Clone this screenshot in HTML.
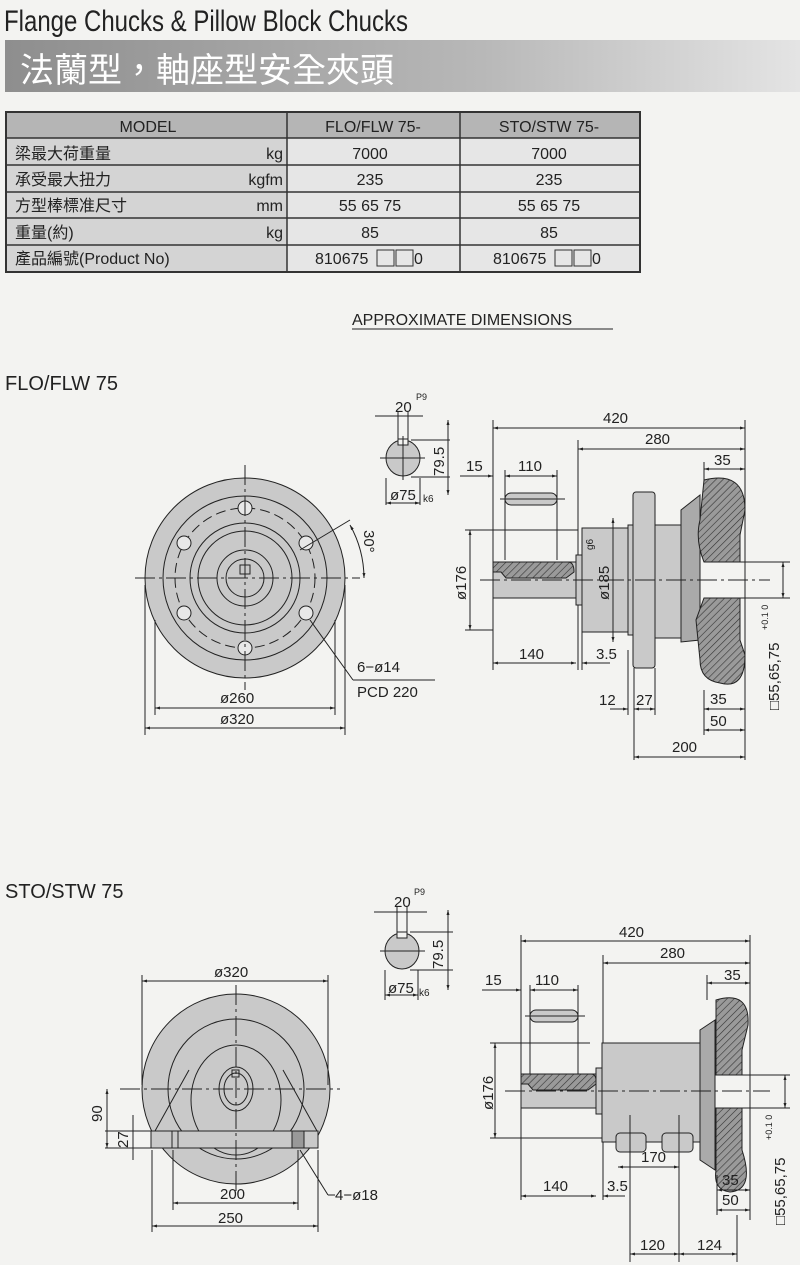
<!DOCTYPE html>
<html><head><meta charset="utf-8"><style>
body{margin:0;background:#f3f3f1;}
svg{display:block}
text{font-family:"Liberation Sans","Noto Sans CJK TC",sans-serif;fill:#222}
.d{font-size:15px}
</style></head><body>
<svg width="800" height="1265" viewBox="0 0 800 1265" xmlns="http://www.w3.org/2000/svg">
<defs>
<linearGradient id="bar" x1="0" x2="1"><stop offset="0" stop-color="#8e8e8e"/><stop offset="0.6" stop-color="#b8b8b8"/><stop offset="1" stop-color="#e4e4e4"/></linearGradient>
<pattern id="h" width="5" height="5" patternUnits="userSpaceOnUse" patternTransform="rotate(45)"><rect width="5" height="5" fill="#9a9a9a"/><line x1="0" y1="0" x2="0" y2="5" stroke="#333" stroke-width="1.2"/></pattern>
<marker id="a" viewBox="0 0 10 10" refX="10" refY="5" markerWidth="7" markerHeight="5" orient="auto-start-reverse"><path d="M0,2 L10,5 L0,8z" fill="#222"/></marker>
</defs>
<text x="5" y="31" font-size="30" transform="scale(0.8,1)" style="font-family:'Liberation Sans Narrow','Liberation Sans',sans-serif">Flange Chucks &amp; Pillow Block Chucks</text>
<rect x="5" y="40" width="795" height="52" fill="url(#bar)"/>
<text x="20" y="82" font-size="34" style="fill:#fff">法蘭型，軸座型安全夾頭</text>
<g font-size="16">
<rect x="6" y="112" width="634" height="160" fill="#e6e6e6" stroke="#333" stroke-width="2"/>
<rect x="6" y="112" width="634" height="26" fill="#b5b5b5"/>
<rect x="6" y="138" width="281" height="134" fill="#d4d4d4"/>
<g stroke="#333" stroke-width="1.5">
<line x1="6" y1="138" x2="640" y2="138"/><line x1="6" y1="165" x2="640" y2="165"/><line x1="6" y1="192" x2="640" y2="192"/><line x1="6" y1="218" x2="640" y2="218"/><line x1="6" y1="245" x2="640" y2="245"/>
<line x1="287" y1="112" x2="287" y2="272"/><line x1="460" y1="112" x2="460" y2="272"/>
</g>
<rect x="6" y="112" width="634" height="160" fill="none" stroke="#333" stroke-width="2"/>
<text x="148" y="132" text-anchor="middle">MODEL</text><text x="373" y="132" text-anchor="middle">FLO/FLW 75-</text><text x="549" y="132" text-anchor="middle">STO/STW 75-</text>
<text x="15" y="159">梁最大荷重量</text><text x="283" y="159" text-anchor="end">kg</text><text x="370" y="159" text-anchor="middle">7000</text><text x="549" y="159" text-anchor="middle">7000</text>
<text x="15" y="185">承受最大扭力</text><text x="283" y="185" text-anchor="end">kgfm</text><text x="370" y="185" text-anchor="middle">235</text><text x="549" y="185" text-anchor="middle">235</text>
<text x="15" y="211">方型棒標准尺寸</text><text x="283" y="211" text-anchor="end">mm</text><text x="370" y="211" text-anchor="middle">55 65 75</text><text x="549" y="211" text-anchor="middle">55 65 75</text>
<text x="15" y="238">重量(約)</text><text x="283" y="238" text-anchor="end">kg</text><text x="370" y="238" text-anchor="middle">85</text><text x="549" y="238" text-anchor="middle">85</text>
<text x="15" y="264">產品編號(Product No)</text>
<text x="315" y="264">810675</text><rect x="377" y="250" width="17" height="16" fill="none" stroke="#333"/><rect x="396" y="250" width="17" height="16" fill="none" stroke="#333"/><text x="414" y="264">0</text>
<text x="493" y="264">810675</text><rect x="555" y="250" width="17" height="16" fill="none" stroke="#333"/><rect x="574" y="250" width="17" height="16" fill="none" stroke="#333"/><text x="592" y="264">0</text>
</g>
<text x="352" y="325" font-size="16">APPROXIMATE DIMENSIONS</text><line x1="352" y1="329" x2="613" y2="329" stroke="#222"/>
<text x="5" y="390" font-size="20">FLO/FLW 75</text>
<text x="5" y="898" font-size="20">STO/STW 75</text>

<g stroke="#222" stroke-width="1" fill="none">
<circle cx="245" cy="578" r="100" fill="#c9c9c9"/>
<circle cx="245" cy="578" r="82"/>
<circle cx="245" cy="578" r="70" stroke-dasharray="10,5"/>
<circle cx="245" cy="578" r="55"/>
<circle cx="245" cy="578" r="47"/>
<circle cx="245" cy="578" r="28"/>
<circle cx="245" cy="578" r="19"/>
<rect x="240" y="565" width="10" height="9"/>
<g fill="#e8e8e8"><circle cx="245" cy="508" r="7"/><circle cx="245" cy="648" r="7"/><circle cx="184" cy="543" r="7"/><circle cx="306" cy="543" r="7"/><circle cx="184" cy="613" r="7"/><circle cx="306" cy="613" r="7"/></g>
<line x1="135" y1="578" x2="360" y2="578" stroke-dasharray="20,4,3,4"/>
<line x1="245" y1="465" x2="245" y2="690" stroke-dasharray="20,4,3,4"/>
<line x1="300" y1="550" x2="350" y2="520"/>
<path d="M350,525 A110,110 0 0 1 364,578" marker-start="url(#a)" marker-end="url(#a)"/>
<line x1="310" y1="620" x2="353" y2="680"/><line x1="353" y1="680" x2="435" y2="680"/>
<line x1="145" y1="585" x2="145" y2="735"/><line x1="345" y1="585" x2="345" y2="735"/>
<line x1="155" y1="620" x2="155" y2="715"/><line x1="335" y1="620" x2="335" y2="715"/>
<line x1="155" y1="708" x2="335" y2="708" marker-start="url(#a)" marker-end="url(#a)"/>
<line x1="145" y1="728" x2="345" y2="728" marker-start="url(#a)" marker-end="url(#a)"/>
<ellipse cx="403" cy="458" rx="17" ry="18" fill="#c9c9c9"/>
<rect x="398" y="439" width="10" height="6" fill="#f3f3f1"/>
<line x1="380" y1="458" x2="425" y2="458"/><line x1="403" y1="436" x2="403" y2="480"/>
<line x1="375" y1="416" x2="423" y2="416"/><line x1="398" y1="412" x2="398" y2="440"/><line x1="408" y1="412" x2="408" y2="440"/>
<line x1="411" y1="440" x2="450" y2="440"/><line x1="411" y1="477" x2="450" y2="477"/>
<line x1="448" y1="420" x2="448" y2="495" marker-start="url(#a)" marker-end="url(#a)"/>
<line x1="386" y1="478" x2="386" y2="505"/><line x1="420" y1="478" x2="420" y2="505"/>
<line x1="386" y1="503" x2="420" y2="503" marker-start="url(#a)" marker-end="url(#a)"/>
<line x1="493" y1="420" x2="493" y2="670"/><line x1="745" y1="420" x2="745" y2="760"/>
<line x1="493" y1="428" x2="745" y2="428" marker-start="url(#a)" marker-end="url(#a)"/>
<line x1="578" y1="440" x2="578" y2="555"/>
<line x1="578" y1="449" x2="745" y2="449" marker-start="url(#a)" marker-end="url(#a)"/>
<line x1="704" y1="462" x2="704" y2="480"/><line x1="704" y1="469" x2="745" y2="469" marker-start="url(#a)" marker-end="url(#a)"/>
<line x1="460" y1="476" x2="493" y2="476" marker-end="url(#a)"/>
<line x1="505" y1="476" x2="557" y2="476" marker-start="url(#a)" marker-end="url(#a)"/>
<line x1="505" y1="470" x2="505" y2="560"/><line x1="557" y1="470" x2="557" y2="560"/>
<rect x="505" y="493" width="52" height="12" rx="6" fill="#c9c9c9"/><line x1="500" y1="499" x2="565" y2="499"/>
<rect x="493" y="562" width="83" height="36" fill="#c9c9c9"/>
<path d="M493,562 h75 q6,0 6,10 l-8,6 h-60 l-5,-6 h-8z" fill="url(#h)"/>
<rect x="576" y="555" width="6" height="50" fill="#c9c9c9"/>
<rect x="582" y="528" width="46" height="104" fill="#c9c9c9"/>
<rect x="628" y="525" width="5" height="110" fill="#c9c9c9"/>
<rect x="633" y="492" width="22" height="176" rx="3" fill="#c9c9c9"/>
<path d="M655,525 L681,525 L695,560 L695,598 L681,638 L655,638z" fill="#c9c9c9"/>
<path d="M681,510 L700,495 L700,640 L681,642z" fill="#aaa"/>
<path d="M704,480 Q745,470 745,510 L740,535 L740,562 L704,562 Q695,540 700,520z" fill="url(#h)"/>
<path d="M704,598 L740,598 L740,640 L745,655 Q745,690 720,683 Q700,680 700,660 L696,620z" fill="url(#h)"/>
<line x1="470" y1="530" x2="470" y2="630" marker-start="url(#a)" marker-end="url(#a)"/>
<line x1="465" y1="530" x2="578" y2="530"/><line x1="465" y1="630" x2="493" y2="630"/>
<line x1="613" y1="518" x2="613" y2="642" marker-start="url(#a)" marker-end="url(#a)"/>
<line x1="480" y1="580" x2="770" y2="580" stroke-dasharray="20,4,3,4"/>
<line x1="735" y1="562" x2="790" y2="562"/><line x1="735" y1="598" x2="790" y2="598"/>
<line x1="783" y1="562" x2="783" y2="598" marker-start="url(#a)" marker-end="url(#a)"/>
<line x1="493" y1="663" x2="576" y2="663" marker-start="url(#a)" marker-end="url(#a)"/>
<line x1="578" y1="605" x2="578" y2="670"/><line x1="582" y1="605" x2="582" y2="670"/>
<line x1="582" y1="663" x2="610" y2="663" marker-start="url(#a)"/>
<line x1="628" y1="650" x2="628" y2="715"/><line x1="634" y1="668" x2="634" y2="760"/><line x1="655" y1="668" x2="655" y2="715"/>
<line x1="704" y1="690" x2="704" y2="735"/>
<line x1="610" y1="709" x2="628" y2="709" marker-end="url(#a)"/><line x1="634" y1="709" x2="655" y2="709" marker-start="url(#a)" marker-end="url(#a)"/>
<line x1="704" y1="709" x2="745" y2="709" marker-start="url(#a)" marker-end="url(#a)"/>
<line x1="704" y1="730" x2="745" y2="730" marker-start="url(#a)" marker-end="url(#a)"/>
<line x1="634" y1="757" x2="745" y2="757" marker-start="url(#a)" marker-end="url(#a)"/>

<ellipse cx="236" cy="1089" rx="94" ry="95" fill="#c9c9c9"/>
<ellipse cx="236" cy="1089" rx="68" ry="70"/>
<ellipse cx="236" cy="1100" rx="45" ry="55"/>
<ellipse cx="236" cy="1089" rx="17" ry="22"/>
<ellipse cx="236" cy="1089" rx="12" ry="16"/>
<rect x="232" y="1070" width="7" height="7"/>
<path d="M155,1131 L189,1070 M283,1070 L317,1131"/>
<rect x="151" y="1131" width="167" height="17" fill="#c9c9c9"/>
<rect x="172" y="1131" width="6" height="17"/><rect x="292" y="1131" width="12" height="17" fill="#999"/>
<line x1="120" y1="1089" x2="340" y2="1089" stroke-dasharray="20,4,3,4"/>
<line x1="236" y1="985" x2="236" y2="1195" stroke-dasharray="20,4,3,4"/>
<line x1="142" y1="975" x2="142" y2="1085"/><line x1="328" y1="975" x2="328" y2="1085"/>
<line x1="142" y1="981" x2="328" y2="981" marker-start="url(#a)" marker-end="url(#a)"/>
<line x1="107" y1="1089" x2="107" y2="1148" marker-start="url(#a)" marker-end="url(#a)"/>
<line x1="133" y1="1115" x2="133" y2="1160"/>
<line x1="105" y1="1131" x2="151" y2="1131"/><line x1="105" y1="1148" x2="151" y2="1148"/>
<line x1="173" y1="1150" x2="173" y2="1210"/><line x1="298" y1="1150" x2="298" y2="1210"/>
<line x1="152" y1="1150" x2="152" y2="1232"/><line x1="318" y1="1150" x2="318" y2="1232"/>
<line x1="173" y1="1203" x2="298" y2="1203" marker-start="url(#a)" marker-end="url(#a)"/>
<line x1="152" y1="1226" x2="318" y2="1226" marker-start="url(#a)" marker-end="url(#a)"/>
<line x1="300" y1="1150" x2="328" y2="1195"/><line x1="328" y1="1195" x2="335" y2="1195"/>
<ellipse cx="402" cy="951" rx="17" ry="18" fill="#c9c9c9"/>
<rect x="397" y="932" width="10" height="6" fill="#f3f3f1"/>
<line x1="380" y1="951" x2="425" y2="951"/>
<line x1="374" y1="912" x2="427" y2="912"/><line x1="397" y1="906" x2="397" y2="932"/><line x1="407" y1="906" x2="407" y2="932"/>
<line x1="410" y1="932" x2="453" y2="932"/><line x1="410" y1="970" x2="453" y2="970"/>
<line x1="448" y1="910" x2="448" y2="990" marker-start="url(#a)" marker-end="url(#a)"/>
<line x1="385" y1="970" x2="385" y2="1000"/><line x1="418" y1="970" x2="418" y2="1000"/>
<line x1="385" y1="995" x2="418" y2="995" marker-start="url(#a)" marker-end="url(#a)"/>
<line x1="521" y1="935" x2="521" y2="1200"/><line x1="750" y1="935" x2="750" y2="1220"/>
<line x1="521" y1="941" x2="750" y2="941" marker-start="url(#a)" marker-end="url(#a)"/>
<line x1="603" y1="955" x2="603" y2="1200"/>
<line x1="603" y1="963" x2="750" y2="963" marker-start="url(#a)" marker-end="url(#a)"/>
<line x1="707" y1="975" x2="707" y2="1000"/><line x1="707" y1="983" x2="750" y2="983" marker-start="url(#a)" marker-end="url(#a)"/>
<line x1="482" y1="990" x2="521" y2="990" marker-end="url(#a)"/>
<line x1="530" y1="990" x2="578" y2="990" marker-start="url(#a)" marker-end="url(#a)"/>
<line x1="530" y1="985" x2="530" y2="1075"/><line x1="578" y1="985" x2="578" y2="1075"/>
<rect x="530" y="1010" width="48" height="12" rx="6" fill="#c9c9c9"/><line x1="525" y1="1016" x2="585" y2="1016"/>
<rect x="521" y="1074" width="75" height="34" fill="#c9c9c9"/>
<path d="M521,1074 h70 q6,0 5,10 l-8,6 h-55 l-5,-6 h-7z" fill="url(#h)"/>
<rect x="596" y="1068" width="6" height="46" fill="#c9c9c9"/>
<path d="M602,1043 L700,1043 L713,1080 L713,1120 L705,1142 L602,1142z" fill="#c9c9c9"/>
<path d="M700,1030 L715,1020 L715,1170 L700,1160z" fill="#aaa"/>
<rect x="616" y="1133" width="30" height="19" rx="4" fill="#c9c9c9"/><rect x="662" y="1133" width="31" height="19" rx="4" fill="#c9c9c9"/>
<path d="M716,1000 Q750,990 748,1025 L742,1050 L742,1075 L716,1075z" fill="url(#h)"/>
<path d="M716,1108 L742,1108 L742,1150 Q755,1190 730,1192 Q713,1190 716,1170z" fill="url(#h)"/>
<line x1="495" y1="1043" x2="495" y2="1138" marker-start="url(#a)" marker-end="url(#a)"/>
<line x1="490" y1="1043" x2="590" y2="1043"/><line x1="490" y1="1138" x2="602" y2="1138"/>
<line x1="505" y1="1091" x2="770" y2="1091" stroke-dasharray="20,4,3,4"/>
<line x1="740" y1="1075" x2="790" y2="1075"/><line x1="740" y1="1108" x2="790" y2="1108"/>
<line x1="785" y1="1075" x2="785" y2="1108" marker-start="url(#a)" marker-end="url(#a)"/>
<line x1="630" y1="1115" x2="630" y2="1262"/><line x1="679" y1="1115" x2="679" y2="1262"/>
<line x1="618" y1="1167" x2="679" y2="1167" marker-start="url(#a)" marker-end="url(#a)"/>
<line x1="521" y1="1196" x2="596" y2="1196" marker-start="url(#a)" marker-end="url(#a)"/>
<line x1="603" y1="1196" x2="625" y2="1196" marker-start="url(#a)"/>
<line x1="717" y1="1175" x2="717" y2="1215"/>
<line x1="717" y1="1190" x2="750" y2="1190" marker-start="url(#a)" marker-end="url(#a)"/>
<line x1="717" y1="1210" x2="750" y2="1210" marker-start="url(#a)" marker-end="url(#a)"/>
<line x1="737" y1="1215" x2="737" y2="1262"/>
<line x1="630" y1="1254" x2="679" y2="1254" marker-start="url(#a)" marker-end="url(#a)"/>
<line x1="679" y1="1254" x2="737" y2="1254" marker-start="url(#a)" marker-end="url(#a)"/>
</g>
<g class="d">
<text x="364" y="530" transform="rotate(90 364 530)">30°</text>
<text x="357" y="672">6−ø14</text><text x="357" y="697">PCD 220</text>
<text x="220" y="703">ø260</text><text x="220" y="724">ø320</text>
<text x="395" y="412">20</text><text x="416" y="400" font-size="9">P9</text>
<text x="423" y="502" font-size="10">k6</text>
<text x="444" y="476" transform="rotate(-90 444 476)">79.5</text>
<text x="390" y="500">ø75</text>
<text x="603" y="423">420</text><text x="645" y="444">280</text><text x="714" y="465">35</text>
<text x="466" y="471">15</text><text x="518" y="471">110</text>
<text x="466" y="600" transform="rotate(-90 466 600)">ø176</text>
<text x="609" y="600" transform="rotate(-90 609 600)">ø185</text><text x="593" y="550" font-size="10" transform="rotate(-90 593 550)">g6</text>
<text x="519" y="659">140</text><text x="596" y="659">3.5</text>
<text x="599" y="705">12</text><text x="636" y="705">27</text><text x="710" y="704">35</text><text x="710" y="726">50</text><text x="672" y="752">200</text>
<text x="779" y="710" transform="rotate(-90 779 710)">□55,65,75</text><text x="768" y="630" font-size="9" transform="rotate(-90 768 630)">+0.1 0</text>
<text x="214" y="977">ø320</text><text x="102" y="1122" transform="rotate(-90 102 1122)">90</text><text x="128" y="1148" transform="rotate(-90 128 1148)">27</text>
<text x="220" y="1199">200</text><text x="218" y="1223">250</text><text x="335" y="1200">4−ø18</text>
<text x="394" y="907">20</text><text x="414" y="895" font-size="9">P9</text><text x="419" y="996" font-size="10">k6</text>
<text x="443" y="969" transform="rotate(-90 443 969)">79.5</text><text x="388" y="993">ø75</text>
<text x="619" y="937">420</text><text x="660" y="958">280</text><text x="724" y="980">35</text>
<text x="485" y="985">15</text><text x="535" y="985">110</text>
<text x="493" y="1110" transform="rotate(-90 493 1110)">ø176</text>
<text x="641" y="1162">170</text><text x="543" y="1191">140</text><text x="607" y="1191">3.5</text>
<text x="722" y="1185">35</text><text x="722" y="1205">50</text><text x="640" y="1250">120</text><text x="697" y="1250">124</text>
<text x="785" y="1225" transform="rotate(-90 785 1225)">□55,65,75</text><text x="772" y="1140" font-size="9" transform="rotate(-90 772 1140)">+0.1 0</text>
</g>
</svg>
</body></html>
